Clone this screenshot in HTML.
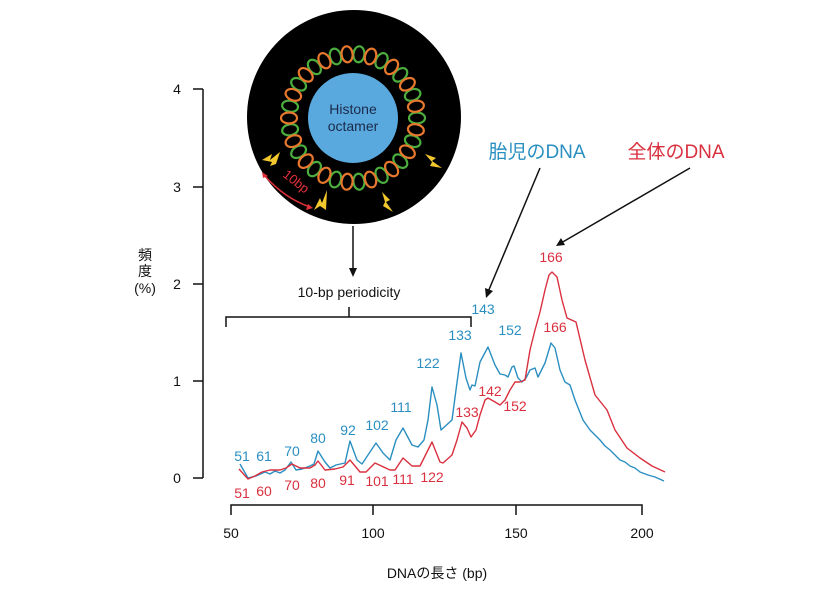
<!DOCTYPE html>
<html><head><meta charset="utf-8"><style>
html,body{margin:0;padding:0;background:#fff;}
svg{display:block;}
text{font-family:"Liberation Sans","Noto Sans CJK JP",sans-serif;}
.b{fill:#2a8fc0;font-size:14px;text-anchor:middle;}
.r{fill:#d9303f;font-size:14px;text-anchor:middle;}
.k{fill:#111;font-size:14px;}
</style></head><body>
<svg width="830" height="596" viewBox="0 0 830 596" xmlns="http://www.w3.org/2000/svg">
<rect width="830" height="596" fill="#fff"/>
<g stroke="#111" stroke-width="1.5" fill="none">
<path d="M203,89 V478 M193,89 H203 M193,187 H203 M193,284 H203 M193,381 H203 M193,478 H203"/>
<path d="M231,515 V505 H642 V515 M373,505 V515 M516,505 V515"/>
<path d="M226,327 V317 H471 V327 M349,317 V307"/>
<path d="M353,226 V270"/>
<path d="M540,168 L488,292"/>
<path d="M690,168 L561,243"/>
</g>
<path d="M353,277 L349,268 L357,268 Z" fill="#111"/>
<path d="M486,298 L485,288 L493,291 Z" fill="#111"/>
<path d="M556,246 L561,238 L565,245 Z" fill="#111"/>
<g class="k">
<text x="177" y="94" text-anchor="middle">4</text>
<text x="177" y="192" text-anchor="middle">3</text>
<text x="177" y="289" text-anchor="middle">2</text>
<text x="177" y="386" text-anchor="middle">1</text>
<text x="177" y="483" text-anchor="middle">0</text>
<text x="231" y="538" text-anchor="middle">50</text>
<text x="373" y="538" text-anchor="middle">100</text>
<text x="516" y="538" text-anchor="middle">150</text>
<text x="642" y="538" text-anchor="middle">200</text>
<text x="349" y="297" text-anchor="middle">10-bp periodicity</text>
<text x="437" y="578" text-anchor="middle">DNAの長さ (bp)</text>
<text x="145" y="260" text-anchor="middle">頻</text>
<text x="145" y="276" text-anchor="middle">度</text>
<text x="145" y="293" text-anchor="middle">(%)</text>
</g>
<text x="537" y="158" font-size="19" fill="#2a8fc0" text-anchor="middle">胎児のDNA</text>
<text x="676" y="158" font-size="19" fill="#d9303f" text-anchor="middle">全体のDNA</text>
<polyline fill="none" stroke="#2a8fc0" stroke-width="1.4" stroke-linejoin="round" points="240,464 248,478 256,476 265,472 270,474 275,471 280,473 285,470 291,462 296,470 302,469 310,466 314,464 318,451 325,462 330,468 336,465 345,463 350,441 357,460 362,464 368,455 376,443 383,453 390,460 396,440 403,428 412,445 418,447 424,440 428,420 432,387 437,405 441,430 452,420 456,390 461,353 466,378 470,390 472,385 475,386 480,362 488,347 495,365 500,374 505,375 508,377 512,367 514,366 518,378 522,382 526,378 530,370 535,368 538,377 545,363 551,343 555,348 560,370 565,382 570,385 575,400 583,420 590,430 600,440 605,446 610,450 615,455 620,460 625,462 630,466 635,468 640,472 648,475 655,477 664,481"/>
<polyline fill="none" stroke="#d9303f" stroke-width="1.4" stroke-linejoin="round" points="239,469 248,479 255,476 262,472 270,470 280,470 286,468 292,464 300,468 310,468 315,465 318,461 325,470 335,469 343,467 350,460 360,472 366,472 375,463 390,470 395,470 403,458 412,466 420,466 427,452 432,442 440,462 443,463 452,455 457,440 462,422 467,428 471,437 476,430 480,415 485,400 488,398 495,402 500,405 505,400 510,390 515,382 520,382 525,380 530,350 535,330 540,312 545,290 549,275 552,272 557,277 562,300 567,318 576,322 585,360 595,395 607,410 615,430 627,448 640,458 652,466 665,472"/>
<g class="b">
<text x="242" y="461">51</text><text x="264" y="461">61</text><text x="292" y="456">70</text>
<text x="318" y="443">80</text><text x="348" y="435">92</text><text x="377" y="430">102</text>
<text x="401" y="412">111</text><text x="428" y="368">122</text><text x="460" y="340">133</text>
<text x="483" y="314">143</text><text x="510" y="335">152</text>
</g>
<g class="r">
<text x="242" y="498">51</text><text x="264" y="496">60</text><text x="292" y="490">70</text>
<text x="318" y="488">80</text><text x="347" y="485">91</text><text x="377" y="486">101</text>
<text x="403" y="484">111</text><text x="432" y="482">122</text><text x="467" y="417">133</text>
<text x="490" y="396">142</text><text x="515" y="411">152</text><text x="551" y="262">166</text>
<text x="555" y="332">166</text>
</g>
<circle cx="354" cy="117" r="107" fill="#000"/>
<g fill="none" stroke-width="2.2">
<g stroke="#4cae3e">
<ellipse cx="417" cy="118" rx="8" ry="5.5" transform="rotate(0 353 118)"/>
<ellipse cx="417" cy="118" rx="8" ry="5.5" transform="rotate(21.2 353 118)"/>
<ellipse cx="417" cy="118" rx="8" ry="5.5" transform="rotate(42.4 353 118)"/>
<ellipse cx="417" cy="118" rx="8" ry="5.5" transform="rotate(63.5 353 118)"/>
<ellipse cx="417" cy="118" rx="8" ry="5.5" transform="rotate(84.7 353 118)"/>
<ellipse cx="417" cy="118" rx="8" ry="5.5" transform="rotate(105.9 353 118)"/>
<ellipse cx="417" cy="118" rx="8" ry="5.5" transform="rotate(127.1 353 118)"/>
<ellipse cx="417" cy="118" rx="8" ry="5.5" transform="rotate(148.2 353 118)"/>
<ellipse cx="417" cy="118" rx="8" ry="5.5" transform="rotate(169.4 353 118)"/>
<ellipse cx="417" cy="118" rx="8" ry="5.5" transform="rotate(190.6 353 118)"/>
<ellipse cx="417" cy="118" rx="8" ry="5.5" transform="rotate(211.8 353 118)"/>
<ellipse cx="417" cy="118" rx="8" ry="5.5" transform="rotate(232.9 353 118)"/>
<ellipse cx="417" cy="118" rx="8" ry="5.5" transform="rotate(254.1 353 118)"/>
<ellipse cx="417" cy="118" rx="8" ry="5.5" transform="rotate(275.3 353 118)"/>
<ellipse cx="417" cy="118" rx="8" ry="5.5" transform="rotate(296.5 353 118)"/>
<ellipse cx="417" cy="118" rx="8" ry="5.5" transform="rotate(317.6 353 118)"/>
<ellipse cx="417" cy="118" rx="8" ry="5.5" transform="rotate(338.8 353 118)"/>
</g>
<g stroke="#e8782e">
<ellipse cx="417" cy="118" rx="8" ry="5.5" transform="rotate(10.6 353 118)"/>
<ellipse cx="417" cy="118" rx="8" ry="5.5" transform="rotate(31.8 353 118)"/>
<ellipse cx="417" cy="118" rx="8" ry="5.5" transform="rotate(52.9 353 118)"/>
<ellipse cx="417" cy="118" rx="8" ry="5.5" transform="rotate(74.1 353 118)"/>
<ellipse cx="417" cy="118" rx="8" ry="5.5" transform="rotate(95.3 353 118)"/>
<ellipse cx="417" cy="118" rx="8" ry="5.5" transform="rotate(116.5 353 118)"/>
<ellipse cx="417" cy="118" rx="8" ry="5.5" transform="rotate(137.6 353 118)"/>
<ellipse cx="417" cy="118" rx="8" ry="5.5" transform="rotate(158.8 353 118)"/>
<ellipse cx="417" cy="118" rx="8" ry="5.5" transform="rotate(180 353 118)"/>
<ellipse cx="417" cy="118" rx="8" ry="5.5" transform="rotate(201.2 353 118)"/>
<ellipse cx="417" cy="118" rx="8" ry="5.5" transform="rotate(222.4 353 118)"/>
<ellipse cx="417" cy="118" rx="8" ry="5.5" transform="rotate(243.5 353 118)"/>
<ellipse cx="417" cy="118" rx="8" ry="5.5" transform="rotate(264.7 353 118)"/>
<ellipse cx="417" cy="118" rx="8" ry="5.5" transform="rotate(285.9 353 118)"/>
<ellipse cx="417" cy="118" rx="8" ry="5.5" transform="rotate(307.1 353 118)"/>
<ellipse cx="417" cy="118" rx="8" ry="5.5" transform="rotate(328.2 353 118)"/>
<ellipse cx="417" cy="118" rx="8" ry="5.5" transform="rotate(349.4 353 118)"/>
</g>
</g>
<circle cx="353" cy="118" r="45" fill="#5aa9de"/>
<text x="353" y="114" font-size="14" fill="#1a2a4a" text-anchor="middle">Histone</text>
<text x="353" y="131" font-size="14" fill="#1a2a4a" text-anchor="middle">octamer</text>
<g fill="#f2c82e">
<path d="M262,160 L272,154 L270,160 L280,152 L276,164 L270,166 L272,162 Z"/>
<path d="M314,210 L320,198 L322,203 L327,190 L326,210 L320,206 Z"/>
<path d="M382,192 L390,200 L386,202 L393,212 L383,206 L385,202 Z"/>
<path d="M425,154 L436,158 L432,161 L442,168 L430,166 L432,162 Z"/>
</g>
<path d="M264,175 Q284,198 310,207" fill="none" stroke="#e0303a" stroke-width="1.5"/>
<path d="M262,172 L268,176 L263,178 Z M313,208 L306,210 L308,204 Z" fill="#e0303a"/>
<text x="0" y="0" font-size="13" fill="#e0303a" transform="translate(282,176) rotate(38)">10bp</text>
</svg>
</body></html>
